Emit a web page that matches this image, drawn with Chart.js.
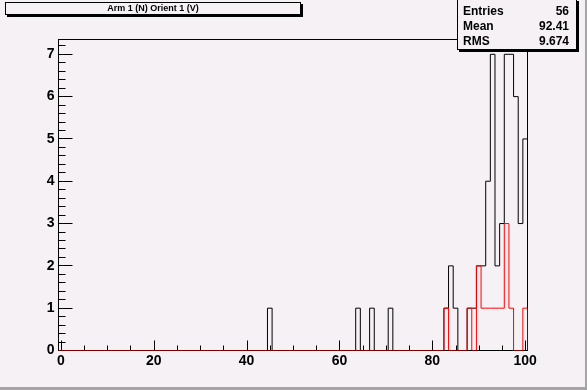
<!DOCTYPE html>
<html>
<head>
<meta charset="utf-8">
<script src="https://cdn.jsdelivr.net/npm/chart.js@4/dist/chart.umd.min.js"></script>
<style>
  html, body { margin: 0; padding: 0; background: #f5f1f5; }
  #wrap { position: relative; width: 587px; height: 390px; background: #f5f1f5; overflow: hidden; }
  #c { position: absolute; left: 0; top: 0; }
  .box { position: absolute; background: #f5f1f5; border: 1px solid #000; box-shadow: 2px 2px 0 #000; box-sizing: border-box;
         font-family: 'Liberation Sans', Arial, sans-serif; font-weight: bold; color: #000; }
  #title { left: 5px; top: 2px; width: 296px; height: 13px; font-size: 9px; line-height: 11px; text-align: center; }
  #stats { left: 457px; top: -1px; width: 120px; height: 51px; font-size: 12px; }
  .row { position: absolute; left: 5px; right: 7px; height: 15px; line-height: 15px; }
  .row span.v { position: absolute; right: 0; }
  #edgeR { position: absolute; right: 0; top: 0; width: 2px; height: 390px; background: #a5a5a5; }
  #edgeB { position: absolute; left: 0; bottom: 0; width: 587px; height: 3px; background: #a5a5a5; }
</style>
</head>
<body>
<div id="wrap">
  <canvas id="c" width="587" height="390"></canvas>
  <div id="title" class="box">Arm 1 (N) Orient 1 (V)</div>
  <div id="stats" class="box">
    <div class="row" style="top:4px">Entries<span class="v">56</span></div>
    <div class="row" style="top:19px">Mean<span class="v">92.41</span></div>
    <div class="row" style="top:34px">RMS<span class="v">9.674</span></div>
  </div>
  <div id="edgeR"></div>
  <div id="edgeB"></div>
</div>
<script>
// ---- data ----
const blackBins   = [45, 64, 67, 71, 83, 84, 85, 88, 89, 90, 91, 92, 93, 94, 95, 96, 97, 98, 99, 100];
const blackCounts = [ 1,  1,  1,  1,  1,  2,  1,  1,  1,  2,  2,  4,  7,  2,  3,  7,  7,  6,  3,   5];
const redBins     = [83, 88, 90, 91, 92, 93, 94, 95, 96, 97, 100];
const redCounts   = [ 1,  1,  2,  1,  1,  1,  1,  1,  3,  1,   1];
const xTickValues = [0, 20, 40, 60, 80, 100];
const yTickValues = [0, 1, 2, 3, 4, 5, 6, 7];
const nBins = 101, xLow = -0.5, xHigh = 100.5, yMax = 7.35;

function stepPoints(bins, counts) {
  const full = new Array(nBins).fill(0);
  bins.forEach((b, i) => { full[b] = counts[i]; });
  const w = (xHigh - xLow) / nBins;
  const pts = full.map((v, i) => ({ x: xLow + i * w, y: v }));
  pts.push({ x: xHigh, y: 0 });
  return pts;
}

const tickFont = { family: "'Liberation Sans', Arial, sans-serif", weight: 'bold', size: 14 };

const rootAxes = {
  id: 'rootAxes',
  beforeDatasetsDraw(chart) {
    const ctx = chart.ctx, a = chart.chartArea;
    const xs = chart.scales.x, ys = chart.scales.y;
    ctx.save();
    ctx.strokeStyle = '#000';
    ctx.lineWidth = 1;
    ctx.strokeRect(a.left, a.top, a.right - a.left, a.bottom - a.top);
    ctx.beginPath();
    // x ticks (inside, upward)
    for (let v = 0; v <= 100; v += 5) {
      const px = Math.round(xs.getPixelForValue(v)) + 0.5;
      const len = (v % 20 === 0) ? 10 : 5;
      ctx.moveTo(px, a.bottom);
      ctx.lineTo(px, a.bottom - len);
    }
    // y ticks (inside, rightward)
    for (let k = 0; k * 0.2 <= yMax + 1e-9; k++) {
      const v = k * 0.2;
      const py = Math.round(ys.getPixelForValue(v) - 0.5) + 0.5;
      const len = (k % 5 === 0) ? 14 : 7;
      ctx.moveTo(a.left, py);
      ctx.lineTo(a.left + len, py);
    }
    ctx.stroke();
    ctx.restore();
  }
};

new Chart(document.getElementById('c'), {
  type: 'line',
  data: {
    datasets: [
      { label: 'red', data: stepPoints(redBins, redCounts), borderColor: '#ff0000', borderWidth: 1,
        pointRadius: 0, stepped: 'before', fill: false, tension: 0 },
      { label: 'black', data: stepPoints(blackBins, blackCounts), borderColor: '#000000', borderWidth: 1,
        pointRadius: 0, stepped: 'before', fill: false, tension: 0 }
    ]
  },
  options: {
    responsive: false,
    animation: false,
    events: [],
    layout: { padding: { top: 39.5, right: 59.5, left: 0, bottom: 0 } },
    plugins: { legend: { display: false }, tooltip: { enabled: false }, title: { display: false } },
    scales: {
      x: {
        type: 'linear', min: xLow, max: xHigh,
        grid: { display: false, drawTicks: false }, border: { display: false },
        afterBuildTicks: s => { s.ticks = xTickValues.map(v => ({ value: v })); },
        afterFit: s => { s.height = 39.5; },
        ticks: { font: tickFont, color: '#000', padding: 2, autoSkip: false, maxRotation: 0,
                 callback: v => String(v) }
      },
      y: {
        type: 'linear', min: 0, max: yMax,
        grid: { display: false, drawTicks: false }, border: { display: false },
        afterBuildTicks: s => { s.ticks = yTickValues.map(v => ({ value: v })); },
        afterFit: s => { s.width = 58.5; },
        ticks: { font: tickFont, color: '#000', padding: 4, autoSkip: false,
                 callback: v => String(v) }
      }
    }
  },
  plugins: [rootAxes]
});
</script>
</body>
</html>
